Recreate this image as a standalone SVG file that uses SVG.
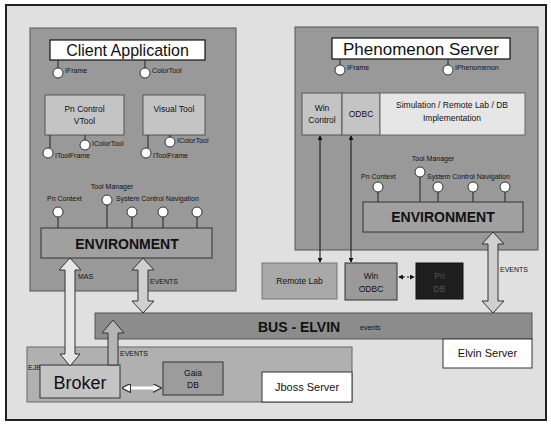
<svg xmlns="http://www.w3.org/2000/svg" width="551" height="424" viewBox="0 0 551 424">
<defs>
<marker id="ah" viewBox="0 0 6 6" refX="5" refY="3" markerWidth="5" markerHeight="5" orient="auto-start-reverse"><path d="M0,0 L6,3 L0,6 Z" fill="#111"/></marker>
<marker id="wh" viewBox="0 0 6 6" refX="5" refY="3" markerWidth="3" markerHeight="3" orient="auto-start-reverse"><path d="M0,0 L6,3 L0,6 Z" fill="#fff" stroke="#333" stroke-width="0.8"/></marker>
</defs>
<style>
text{font-family:"Liberation Sans",Arial,sans-serif;fill:#111}
.panel{fill:#999;stroke:#555;stroke-width:1}
.title{fill:#fff;stroke:#111;stroke-width:1.2}
.box{fill:#c4c4c4;stroke:#555;stroke-width:1}
.env{fill:#a0a0a0;stroke:#333;stroke-width:1}
.lp{fill:#fff;stroke:#333;stroke-width:1}
.stub{stroke:#222;stroke-width:1}
.sm{font-size:7px}
.lbl{font-size:8.5px}
.envt{font-size:14px;font-weight:bold;text-anchor:middle}
.mid{text-anchor:middle}
.big{fill:#cfcfcf;stroke:#333;stroke-width:1}
</style>
<rect x="0" y="0" width="551" height="424" fill="#fff"/>
<rect x="6" y="5" width="540" height="415" fill="#e0e0e0" stroke="#222" stroke-width="2"/>

<g id="client-app">
<rect class="panel" x="30" y="28" width="206" height="263"/>
<rect class="title" x="50" y="40" width="155" height="20"/>
<text x="127.5" y="56" font-size="16" class="mid">Client Application</text>
<line class="stub" x1="58" y1="60" x2="58" y2="68"/><circle class="lp" cx="58" cy="73" r="5"/><text class="sm" x="65" y="73">IFrame</text>
<line class="stub" x1="145" y1="60" x2="145" y2="68"/><circle class="lp" cx="145" cy="73" r="5"/><text class="sm" x="152" y="73">ColorTool</text>
</g>

<g id="pn-control">
<rect class="box" x="45" y="95" width="79" height="40"/>
<text class="lbl mid" x="84.5" y="112">Pn Control</text>
<text class="lbl mid" x="84.5" y="124">VTool</text>
<line class="stub" x1="85" y1="135" x2="85" y2="140"/><circle class="lp" cx="85" cy="145" r="5"/><text class="sm" x="92" y="146">IColorTool</text>
<line class="stub" x1="50" y1="135" x2="50" y2="148"/><circle class="lp" cx="48" cy="153" r="5"/><text class="sm" x="55" y="158">IToolFrame</text>
</g>

<g id="visual-tool">
<rect class="box" x="143" y="95" width="62" height="40"/>
<text class="lbl mid" x="174" y="112">Visual Tool</text>
<line class="stub" x1="170" y1="135" x2="170" y2="138"/><circle class="lp" cx="170" cy="142" r="5"/><text class="sm" x="177" y="143">IColorTool</text>
<line class="stub" x1="148" y1="135" x2="148" y2="148"/><circle class="lp" cx="146" cy="153" r="5"/><text class="sm" x="153" y="158">IToolFrame</text>
</g>

<g id="client-env">
<text class="sm mid" x="112" y="189">Tool Manager</text>
<text class="sm" x="47" y="201">Pn Context</text>
<text class="sm" x="116" y="201">System  Control  Navigation</text>
<line class="stub" x1="58" y1="217" x2="58" y2="228"/><circle class="lp" cx="58" cy="212" r="5"/>
<line class="stub" x1="107" y1="205" x2="107" y2="228"/><circle class="lp" cx="107" cy="200" r="5"/>
<line class="stub" x1="132" y1="217" x2="132" y2="228"/><circle class="lp" cx="132" cy="212" r="5"/>
<line class="stub" x1="163" y1="217" x2="163" y2="228"/><circle class="lp" cx="163" cy="212" r="5"/>
<line class="stub" x1="197" y1="217" x2="197" y2="228"/><circle class="lp" cx="197" cy="212" r="5"/>
<rect class="env" x="41" y="228" width="171" height="30"/>
<text class="envt" x="127" y="249">ENVIRONMENT</text>
</g>

<g id="phenomenon-server">
<rect class="panel" x="295" y="27" width="243" height="223"/>
<rect class="title" x="332" y="38" width="178" height="21"/>
<text x="421" y="55" font-size="17" class="mid">Phenomenon Server</text>
<line class="stub" x1="340" y1="59" x2="340" y2="65"/><circle class="lp" cx="340" cy="70" r="5"/><text class="sm" x="347" y="70">IFrame</text>
<line class="stub" x1="448" y1="59" x2="448" y2="65"/><circle class="lp" cx="448" cy="70" r="5"/><text class="sm" x="455" y="70">IPhenomenon</text>
</g>

<g id="win-control">
<rect class="box" x="302" y="93" width="40" height="42"/>
<text class="lbl mid" x="322" y="111">Win</text>
<text class="lbl mid" x="322" y="123">Control</text>
</g>
<g id="odbc">
<rect class="box" x="342" y="93" width="38" height="42"/>
<text class="lbl mid" x="361" y="117">ODBC</text>
</g>
<g id="simulation">
<rect x="380" y="93" width="145" height="42" fill="#e6e6e6" stroke="#666"/>
<text class="lbl mid" x="452" y="108">Simulation / Remote Lab / DB</text>
<text class="lbl mid" x="452" y="121">Implementation</text>
</g>

<g id="server-env">
<text class="sm mid" x="433" y="161">Tool Manager</text>
<text class="sm" x="361" y="179">Pn Context</text>
<text class="sm" x="427" y="179">System  Control  Navigation</text>
<line class="stub" x1="378" y1="192" x2="378" y2="202"/><circle class="lp" cx="378" cy="187" r="5"/>
<line class="stub" x1="420" y1="177" x2="420" y2="202"/><circle class="lp" cx="420" cy="172" r="5"/>
<line class="stub" x1="438" y1="192" x2="438" y2="202"/><circle class="lp" cx="438" cy="187" r="5"/>
<line class="stub" x1="473" y1="192" x2="473" y2="202"/><circle class="lp" cx="473" cy="187" r="5"/>
<line class="stub" x1="505" y1="192" x2="505" y2="202"/><circle class="lp" cx="505" cy="187" r="5"/>
<rect class="env" x="363" y="202" width="160" height="30"/>
<text class="envt" x="443" y="222">ENVIRONMENT</text>
</g>

<g id="remote-lab">
<rect x="262" y="263" width="75" height="36" fill="#a8a8a8" stroke="#777"/>
<text class="lbl mid" x="299.5" y="284">Remote Lab</text>
</g>
<g id="win-odbc">
<rect x="345" y="263" width="52" height="37" fill="#9a9a9a" stroke="#333"/>
<text class="lbl mid" x="371" y="279">Win</text>
<text class="lbl mid" x="371" y="292">ODBC</text>
</g>
<g id="pn-db">
<rect x="416" y="263" width="47" height="36" fill="#1e1e1e" stroke="#111"/>
<text class="lbl mid" x="439.5" y="279" style="fill:#555">Pn</text>
<text class="lbl mid" x="439.5" y="292" style="fill:#555">DB</text>
</g>

<g id="jboss">
<rect x="27" y="347" width="325" height="55" fill="#b0b0b0" stroke="#666"/>
<text x="28" y="370" font-size="7">EJB</text>
<rect x="262" y="372" width="90" height="30" fill="#fff" stroke="#333"/>
<text x="307" y="391" font-size="11" class="mid">Jboss Server</text>
</g>
<g id="broker">
<rect x="40" y="365" width="80" height="33" fill="#c4c4c4" stroke="#333"/>
<text x="80" y="389" font-size="18" class="mid">Broker</text>
</g>
<g id="gaia-db">
<rect x="163" y="362" width="60" height="33" fill="#9c9c9c" stroke="#333"/>
<text class="lbl mid" x="193" y="376">Gaia</text>
<text class="lbl mid" x="193" y="388">DB</text>
</g>

<g id="bus-elvin">
<rect x="95" y="313" width="437" height="26" fill="#8c8c8c" stroke="#555"/>
<text x="258" y="332" font-size="14" font-weight="bold">BUS - ELVIN</text>
<text class="sm" x="360" y="330">events</text>
</g>
<g id="elvin-server">
<rect x="443" y="339" width="89" height="29" fill="#fff" stroke="#333"/>
<text x="487.5" y="357" font-size="11" class="mid">Elvin Server</text>
</g>

<g id="connectors">
<line x1="320" y1="136" x2="320" y2="262" stroke="#111" stroke-width="1" marker-start="url(#ah)" marker-end="url(#ah)"/>
<line x1="351" y1="136" x2="351" y2="262" stroke="#111" stroke-width="1" marker-start="url(#ah)" marker-end="url(#ah)"/>
<line x1="399" y1="277" x2="414" y2="277" stroke="#111" stroke-width="1" stroke-dasharray="2,2" marker-start="url(#ah)" marker-end="url(#ah)"/>
<path class="big" d="M143,258 L154,270 L148,270 L148,301 L154,301 L143,313 L132,301 L138,301 L138,270 L132,270 Z"/>
<text class="sm" x="150" y="284">EVENTS</text>
<path class="big" d="M493,232 L504,244 L498,244 L498,301 L504,301 L493,313 L482,301 L488,301 L488,244 L482,244 Z"/>
<text class="sm" x="500" y="272">EVENTS</text>
<path d="M70,258 L81,270 L75,270 L75,354 L80,354 L70,366 L60,354 L65,354 L65,270 L59,270 Z" fill="#e6e6e6" stroke="#333" stroke-width="1"/>
<text class="sm" x="78" y="279">MAS</text>
<path d="M113,320 L124,333 L118,333 L118,365 L108,365 L108,333 L102,333 Z" fill="#b4b4b4" stroke="#333" stroke-width="1"/>
<text class="sm" x="120" y="356">EVENTS</text>
<line x1="123" y1="388" x2="160" y2="388" stroke="#fff" stroke-width="3" marker-start="url(#wh)" marker-end="url(#wh)"/>
</g>
</svg>
